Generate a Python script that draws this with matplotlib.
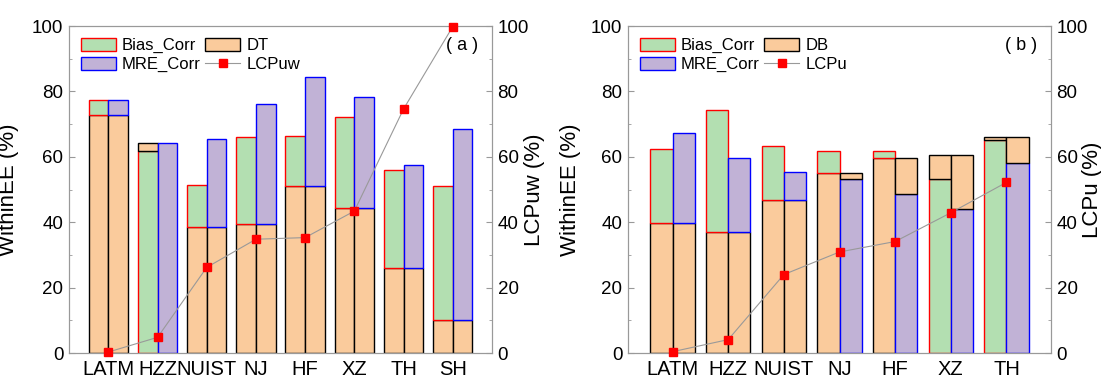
import numpy as np
import matplotlib.pyplot as plt
from matplotlib.patches import Patch
from matplotlib.lines import Line2D
from matplotlib.ticker import MultipleLocator

plt.rcParams.update({"font.family": ["Liberation Sans", "DejaVu Sans"], "font.size": 12})

# panel (a)
cats_a = ["LATM", "HZZ", "NUIST", "NJ", "HF", "XZ", "TH", "SH"]
dt_a = [72.9, 64.3, 38.4, 39.6, 51.1, 44.5, 26.1, 10.2]
bias_a = [77.4, 61.8, 51.3, 66.0, 66.5, 72.3, 55.9, 51.1]
mre_a = [77.4, 64.3, 65.4, 76.1, 84.3, 78.3, 57.5, 68.6]
lcp_a = [0.3, 4.8, 26.2, 34.8, 35.3, 43.4, 74.6, 99.8]

# panel (b)
cats_b = ["LATM", "HZZ", "NUIST", "NJ", "HF", "XZ", "TH"]
db_b = [39.8, 37.1, 46.8, 55.2, 59.5, 60.7, 66.0]
bias_b = [62.3, 74.4, 63.4, 61.8, 61.8, 53.2, 65.3]
mre_b = [67.3, 59.6, 55.3, 53.2, 48.5, 44.0, 58.1]
lcp_b = [0.4, 4.1, 24.0, 30.9, 34.1, 42.9, 52.2]

PEACH = "#facb9c"
GREEN = "#b3dfb1"
PURPLE = "#c1b2d6"
W = 0.4


def pair_bar(ax, x, base, corr, fill, edge):
    base = np.asarray(base)
    corr = np.asarray(corr)
    low = np.minimum(base, corr)
    high = np.maximum(base, corr)
    corr_low = corr <= base
    # lower segment: whichever is smaller
    for i in range(len(x)):
        if corr_low[i]:
            lc, le, uc, ue = fill, edge, PEACH, "black"
        else:
            lc, le, uc, ue = PEACH, "black", fill, edge
        ax.bar(x[i], low[i], W, color=lc, edgecolor=le, lw=1.0, zorder=2)
        if high[i] > low[i]:
            ax.bar(x[i], high[i] - low[i], W, bottom=low[i], color=uc,
                   edgecolor=ue, lw=1.0, zorder=2)


def style_y(ax):
    ax.set_ylim(0, 100)
    ax.yaxis.set_major_locator(MultipleLocator(20))
    ax.yaxis.set_minor_locator(MultipleLocator(10))
    ax.tick_params(axis="y", which="major", direction="in", length=4,
                   color="#999999", labelsize=13.5, pad=4)
    ax.tick_params(axis="y", which="minor", direction="in", length=2.5,
                   color="#999999")
    for s in ax.spines.values():
        s.set_color("#999999")


def panel(ax, cats, base, bias, mre, lcp, base_lbl, lcp_lbl, ylab2, tag, lx, rx):
    x = np.arange(len(cats))
    pair_bar(ax, x - W / 2, base, bias, GREEN, "red")
    pair_bar(ax, x + W / 2, base, mre, PURPLE, "blue")
    ax.set_xlim(-0.8, len(cats) - 0.2)
    ax.set_xticks(x)
    ax.set_xticklabels(cats, fontsize=14.5)
    ax.tick_params(axis="x", length=0, pad=5)
    style_y(ax)
    ax.set_ylabel("WithinEE (%)", fontsize=16)
    ax.yaxis.set_label_coords(lx, 0.5)

    ax2 = ax.twinx()
    ax2.plot(x, lcp, color="#999999", lw=0.8, marker="s", ms=6,
             mfc="red", mec="red", clip_on=False, zorder=5)
    style_y(ax2)
    ax2.set_ylabel(ylab2, fontsize=16)
    ax2.yaxis.set_label_coords(rx, 0.5)

    ax.text(0.93, 0.94, f"( {tag} )", transform=ax.transAxes, ha="center",
            va="center", fontsize=13)

    handles = [
        Patch(facecolor=GREEN, edgecolor="red", label="Bias_Corr"),
        Patch(facecolor=PURPLE, edgecolor="blue", label="MRE_Corr"),
        Patch(facecolor=PEACH, edgecolor="black", label=base_lbl),
        Line2D([], [], color="#999999", lw=0.8, marker="s", ms=6, mfc="red",
               mec="red", label=lcp_lbl),
    ]
    ax.legend(handles=handles, ncol=2, loc="upper left", bbox_to_anchor=(0.0, 1.0),
              frameon=False, fontsize=12, handlelength=2.1, handleheight=0.85,
              columnspacing=0.3, handletextpad=0.35, labelspacing=0.2,
              borderaxespad=0.3)


fig = plt.figure(figsize=(11.01, 3.78), dpi=100)
ax_a = fig.add_axes([0.0627, 0.0661, 0.3842, 0.865])
ax_b = fig.add_axes([0.5704, 0.0661, 0.3842, 0.865])
panel(ax_a, cats_a, dt_a, bias_a, mre_a, lcp_a, "DT", "LCPuw", "LCPuw (%)", "a",
      -0.118, 1.076)
panel(ax_b, cats_b, db_b, bias_b, mre_b, lcp_b, "DB", "LCPu", "LCPu (%)", "b",
      -0.112, 1.073)

fig.savefig("out.png", dpi=100)
